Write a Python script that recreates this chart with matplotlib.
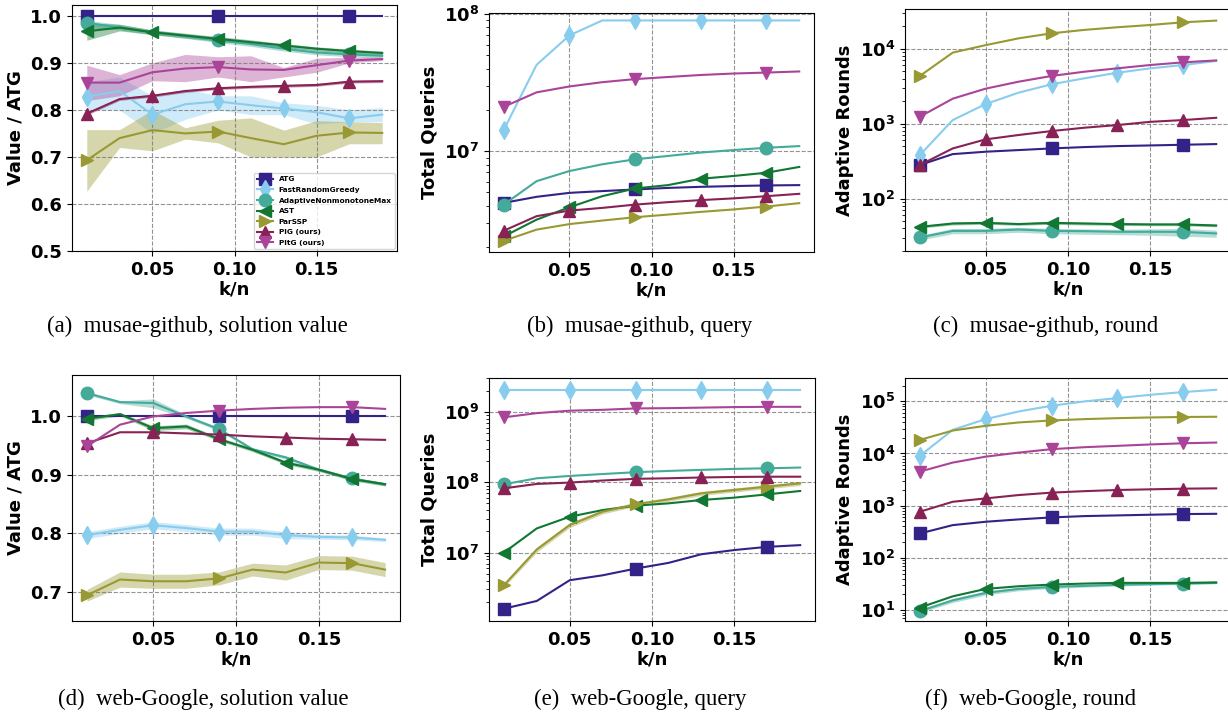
import numpy as np
import matplotlib
matplotlib.use("Agg")
import matplotlib.pyplot as plt
from matplotlib.ticker import FuncFormatter, NullFormatter

plt.rcParams['font.family'] = ['DejaVu Sans']
plt.rcParams['font.weight'] = 'bold'
plt.rcParams['axes.labelweight'] = 'bold'

k_n = [0.01, 0.03, 0.05, 0.07, 0.09, 0.11, 0.13, 0.15, 0.17, 0.19]
algos = ['ATG', 'FastRandomGreedy', 'AdaptiveNonmonotoneMax', 'AST', 'ParSSP', 'PIG (ours)', 'PItG (ours)']
colors = ['#332288', '#88CCEE', '#44AA99', '#117733', '#999933', '#882255', '#AA4499']
markers = ['s', 'd', 'o', '<', '>', '^', 'v']
mark_every = [4, 2, 4, 2, 4, 2, 4]

# (a) musae-github, solution value (ratio to ATG)
gh_value = {
    'ATG': [1.0] * 10,
    'FastRandomGreedy': [0.828, 0.84, 0.79, 0.812, 0.818, 0.81, 0.803, 0.795, 0.782, 0.79],
    'AdaptiveNonmonotoneMax': [0.985, 0.975, 0.965, 0.957, 0.948, 0.94, 0.93, 0.922, 0.918, 0.915],
    'AST': [0.967, 0.975, 0.965, 0.958, 0.951, 0.944, 0.937, 0.93, 0.925, 0.921],
    'ParSSP': [0.693, 0.74, 0.757, 0.75, 0.754, 0.74, 0.727, 0.745, 0.752, 0.751],
    'PIG (ours)': [0.792, 0.823, 0.83, 0.84, 0.846, 0.849, 0.851, 0.853, 0.86, 0.861],
    'PItG (ours)': [0.858, 0.858, 0.88, 0.888, 0.891, 0.886, 0.885, 0.895, 0.905, 0.908],
}
gh_value_band = {
    'FastRandomGreedy': ([0.80, 0.80, 0.75, 0.78, 0.80, 0.79, 0.79, 0.77, 0.775, 0.775],
                         [0.86, 0.87, 0.83, 0.845, 0.83, 0.83, 0.815, 0.81, 0.80, 0.805]),
    'AdaptiveNonmonotoneMax': ([0.975, 0.97, 0.96, 0.952, 0.943, 0.935, 0.925, 0.917, 0.913, 0.91],
                               [0.99, 0.982, 0.97, 0.962, 0.953, 0.945, 0.935, 0.927, 0.923, 0.92]),
    'AST': ([0.948, 0.968, 0.96, 0.953, 0.946, 0.94, 0.933, 0.926, 0.921, 0.917],
            [0.985, 0.982, 0.97, 0.963, 0.956, 0.949, 0.941, 0.934, 0.929, 0.925]),
    'ParSSP': ([0.627, 0.72, 0.713, 0.738, 0.73, 0.70, 0.70, 0.70, 0.728, 0.728],
               [0.758, 0.758, 0.80, 0.762, 0.778, 0.783, 0.757, 0.777, 0.775, 0.773]),
    'PIG (ours)': ([0.789, 0.82, 0.827, 0.837, 0.843, 0.846, 0.848, 0.85, 0.857, 0.858],
                   [0.795, 0.826, 0.833, 0.843, 0.849, 0.852, 0.854, 0.856, 0.863, 0.864]),
    'PItG (ours)': ([0.82, 0.83, 0.862, 0.86, 0.87, 0.86, 0.87, 0.88, 0.90, 0.905],
                    [0.895, 0.875, 0.90, 0.918, 0.913, 0.915, 0.89, 0.91, 0.912, 0.912]),
}

# (b) musae-github, total queries
gh_query = {
    'ATG': [4.2e6, 4.65e6, 4.97e6, 5.12e6, 5.26e6, 5.4e6, 5.5e6, 5.57e6, 5.63e6, 5.66e6],
    'FastRandomGreedy': [1.43e7, 4.27e7, 7.0e7, 9.0e7, 9.0e7, 9.0e7, 9.0e7, 9.0e7, 9.0e7, 9.0e7],
    'AdaptiveNonmonotoneMax': [4.08e6, 6.05e6, 7.17e6, 8.03e6, 8.73e6, 9.24e6, 9.78e6, 1.02e7, 1.06e7, 1.09e7],
    'AST': [2.39e6, 3.17e6, 3.9e6, 4.7e6, 5.35e6, 5.66e6, 6.3e6, 6.6e6, 6.97e6, 7.68e6],
    'ParSSP': [2.22e6, 2.68e6, 2.94e6, 3.12e6, 3.3e6, 3.45e6, 3.61e6, 3.76e6, 3.95e6, 4.18e6],
    'PIG (ours)': [2.63e6, 3.36e6, 3.69e6, 3.86e6, 4.08e6, 4.25e6, 4.4e6, 4.53e6, 4.7e6, 4.89e6],
    'PItG (ours)': [2.11e7, 2.69e7, 2.97e7, 3.19e7, 3.36e7, 3.48e7, 3.6e7, 3.69e7, 3.75e7, 3.82e7],
}

# (c) musae-github, adaptive rounds
gh_round = {
    'ATG': [281, 393, 423, 445, 468, 488, 503, 513, 524, 535],
    'FastRandomGreedy': [381, 1120, 1830, 2600, 3360, 4040, 4800, 5480, 6080, 6880],
    'AdaptiveNonmonotoneMax': [30.3, 37.1, 37.1, 38.7, 37.1, 36.8, 36.1, 36.1, 36.0, 34.3],
    'AST': [42.0, 46.6, 47.5, 45.8, 47.5, 46.6, 45.8, 45.3, 45.3, 43.8],
    'ParSSP': [4340, 8900, 11200, 13800, 16100, 17900, 19400, 20800, 22600, 23800],
    'PIG (ours)': [281, 468, 618, 707, 798, 885, 960, 1060, 1120, 1200],
    'PItG (ours)': [1240, 2160, 2940, 3640, 4340, 4950, 5490, 6080, 6600, 7000],
}
gh_round_band = {
    'AdaptiveNonmonotoneMax': ([28, 34, 34, 35.5, 34, 33.5, 33, 32.5, 31.5, 30.5],
                               [32.5, 40, 40, 41.5, 40, 39.5, 39, 39.5, 40, 38]),
    'AST': ([40.5, 44.5, 45.5, 44, 45.5, 44.5, 44, 43.5, 43.5, 42],
            [43.5, 48.5, 49.5, 47.5, 49.5, 48.5, 47.5, 47, 47, 45.5]),
}

# (d) web-Google, solution value (ratio to ATG)
wg_value = {
    'ATG': [1.0] * 10,
    'FastRandomGreedy': [0.797, 0.806, 0.814, 0.809, 0.803, 0.803, 0.797, 0.794, 0.793, 0.789],
    'AdaptiveNonmonotoneMax': [1.04, 1.0246, 1.023, 1.0, 0.978, 0.944, 0.930, 0.909, 0.894, 0.884],
    'AST': [0.996, 1.004, 0.98, 0.983, 0.961, 0.943, 0.921, 0.909, 0.893, 0.884],
    'ParSSP': [0.694, 0.721, 0.718, 0.718, 0.723, 0.738, 0.733, 0.75, 0.749, 0.738],
    'PIG (ours)': [0.954, 0.973, 0.973, 0.971, 0.969, 0.966, 0.964, 0.962, 0.961, 0.96],
    'PItG (ours)': [0.949, 0.986, 1.0, 1.006, 1.01, 1.013, 1.015, 1.016, 1.016, 1.013],
}
wg_value_band = {
    'FastRandomGreedy': ([0.791, 0.80, 0.808, 0.803, 0.797, 0.797, 0.791, 0.79, 0.789, 0.786],
                         [0.803, 0.812, 0.82, 0.815, 0.809, 0.809, 0.803, 0.798, 0.797, 0.792]),
    'AdaptiveNonmonotoneMax': ([1.037, 1.022, 1.015, 0.997, 0.975, 0.942, 0.927, 0.907, 0.892, 0.882],
                               [1.043, 1.027, 1.03, 1.003, 0.981, 0.946, 0.933, 0.911, 0.896, 0.886]),
    'AST': ([0.993, 1.001, 0.976, 0.979, 0.958, 0.94, 0.918, 0.906, 0.89, 0.881],
            [0.999, 1.007, 0.984, 0.987, 0.964, 0.946, 0.924, 0.912, 0.896, 0.887]),
    'ParSSP': ([0.684, 0.708, 0.706, 0.706, 0.712, 0.727, 0.72, 0.738, 0.737, 0.726],
               [0.704, 0.734, 0.73, 0.73, 0.734, 0.749, 0.746, 0.762, 0.761, 0.75]),
}

# (e) web-Google, total queries
wg_query = {
    'ATG': [1.6e6, 2.06e6, 4.06e6, 4.77e6, 5.94e6, 7.16e6, 9.5e6, 1.09e7, 1.21e7, 1.28e7],
    'FastRandomGreedy': [2.07e9] * 10,
    'AdaptiveNonmonotoneMax': [9.36e7, 1.14e8, 1.23e8, 1.31e8, 1.39e8, 1.45e8, 1.5e8, 1.55e8, 1.58e8, 1.62e8],
    'AST': [1.0e7, 2.21e7, 3.24e7, 4.03e7, 4.65e7, 5.02e7, 5.6e7, 6.05e7, 6.74e7, 7.52e7],
    'ParSSP': [3.44e6, 1.11e7, 2.47e7, 3.82e7, 4.86e7, 5.72e7, 6.97e7, 7.78e7, 8.67e7, 9.67e7],
    'PIG (ours)': [8.2e7, 9.47e7, 9.9e7, 1.06e8, 1.12e8, 1.14e8, 1.17e8, 1.19e8, 1.2e8, 1.2e8],
    'PItG (ours)': [8.36e8, 9.6e8, 1.04e9, 1.07e9, 1.12e9, 1.13e9, 1.15e9, 1.17e9, 1.18e9, 1.18e9],
}
wg_query_band = {
    'ParSSP': ([3.2e6, 1.02e7, 2.27e7, 3.55e7, 4.55e7, 5.35e7, 6.5e7, 7.25e7, 8.1e7, 9.0e7],
               [3.7e6, 1.2e7, 2.67e7, 4.1e7, 5.2e7, 6.1e7, 7.45e7, 8.3e7, 9.25e7, 1.03e8]),
}

# (f) web-Google, adaptive rounds
wg_round = {
    'ATG': [294, 425, 493, 547, 597, 633, 652, 672, 692, 700],
    'FastRandomGreedy': [8990, 28400, 45500, 63800, 82000, 99400, 115000, 133000, 150000, 166000],
    'AdaptiveNonmonotoneMax': [9.6, 15.4, 21.4, 25.5, 27.9, 29.2, 30.6, 31.5, 32.3, 33.3],
    'AST': [11.2, 18.4, 25.5, 28.7, 30.9, 32.3, 33.3, 33.3, 33.3, 34.0],
    'ParSSP': [18200, 27500, 33900, 39300, 42900, 45500, 47500, 49000, 50000, 50500],
    'PIG (ours)': [767, 1190, 1380, 1600, 1780, 1900, 2000, 2060, 2120, 2150],
    'PItG (ours)': [4500, 6700, 8700, 10400, 12100, 13200, 14000, 14900, 15700, 16200],
}
wg_round_band = {
    'AdaptiveNonmonotoneMax': ([9.0, 14.0, 19.5, 23.5, 26.0, 27.5, 29.0, 30.0, 31.0, 32.0],
                               [10.2, 16.8, 23.3, 27.5, 29.8, 31.0, 32.2, 33.0, 33.6, 34.6]),
}

panels = [
    # data, band, ylabel, log, ylim, pixel box (left, top, right, bottom)
    (gh_value, gh_value_band, 'Value / ATG', False, (0.5, 1.023), (72, 5, 397, 251)),
    (gh_query, {}, 'Total Queries', True, (1.84e6, 1.02e8), (489, 13, 814, 252)),
    (gh_round, gh_round_band, 'Adaptive Rounds', True, (20, 3.4e4), (905, 9, 1231, 251)),
    (wg_value, wg_value_band, 'Value / ATG', False, (0.650, 1.071), (72, 375, 400, 621)),
    (wg_query, wg_query_band, 'Total Queries', True, (1.07e6, 3.03e9), (489, 378, 815, 621)),
    (wg_round, wg_round_band, 'Adaptive Rounds', True, (6.2, 2.79e5), (905, 378, 1231, 621)),
]

captions = [
    ('(a)  musae-github, solution value', 197, 326),
    ('(b)  musae-github, query', 640, 326),
    ('(c)  musae-github, round', 1046, 326),
    ('(d)  web-Google, solution value', 203, 699),
    ('(e)  web-Google, query', 640, 699),
    ('(f)  web-Google, round', 1031, 699),
]

W, H = 1228, 715
fig = plt.figure(figsize=(W / 100, H / 100), dpi=100)

log_fmt = FuncFormatter(lambda v, p: r'$\mathbf{10^{%d}}$' % int(round(np.log10(v))))

for idx, (data, band, ylabel, is_log, ylim, box) in enumerate(panels):
    l, t, r, b = box
    ax = fig.add_axes([l / W, 1 - b / H, (r - l) / W, (b - t) / H])
    for name, c, m, me in zip(algos, colors, markers, mark_every):
        ax.plot(k_n, data[name], color=c, marker=m, markevery=me, markersize=9,
                linewidth=1.5, label=name)
        if name in band:
            lo, hi = band[name]
            ax.fill_between(k_n, lo, hi, color=c, alpha=0.4, linewidth=0)
    if is_log:
        ax.set_yscale('log')
        ax.yaxis.set_major_formatter(log_fmt)
        ax.yaxis.set_minor_formatter(NullFormatter())
    elif idx == 0:
        ax.set_yticks([0.5, 0.6, 0.7, 0.8, 0.9, 1.0])
    else:
        ax.set_yticks([0.7, 0.8, 0.9, 1.0])
    ax.set_ylim(*ylim)
    ax.set_xticks([0.05, 0.10, 0.15])
    ax.set_xticklabels(['0.05', '0.10', '0.15'])
    ax.tick_params(labelsize=13)
    ax.grid(True, which='major', linestyle='--', color='#777777', alpha=0.8, linewidth=0.8)
    ax.set_xlabel('k/n', fontsize=13, fontweight='bold', labelpad=1)
    ax.set_ylabel(ylabel, fontsize=13, fontweight='bold')
    if idx == 0:
        ax.legend(loc='lower right', fontsize=5.3, borderaxespad=0.3, handlelength=2.2,
                  labelspacing=0.6)

for text, cx, cy in captions:
    fig.text(cx / W, 1 - cy / H, text, ha='center', va='center',
             fontsize=16.4, fontweight='normal', family='Liberation Serif')

fig.savefig('out.png', dpi=100)
